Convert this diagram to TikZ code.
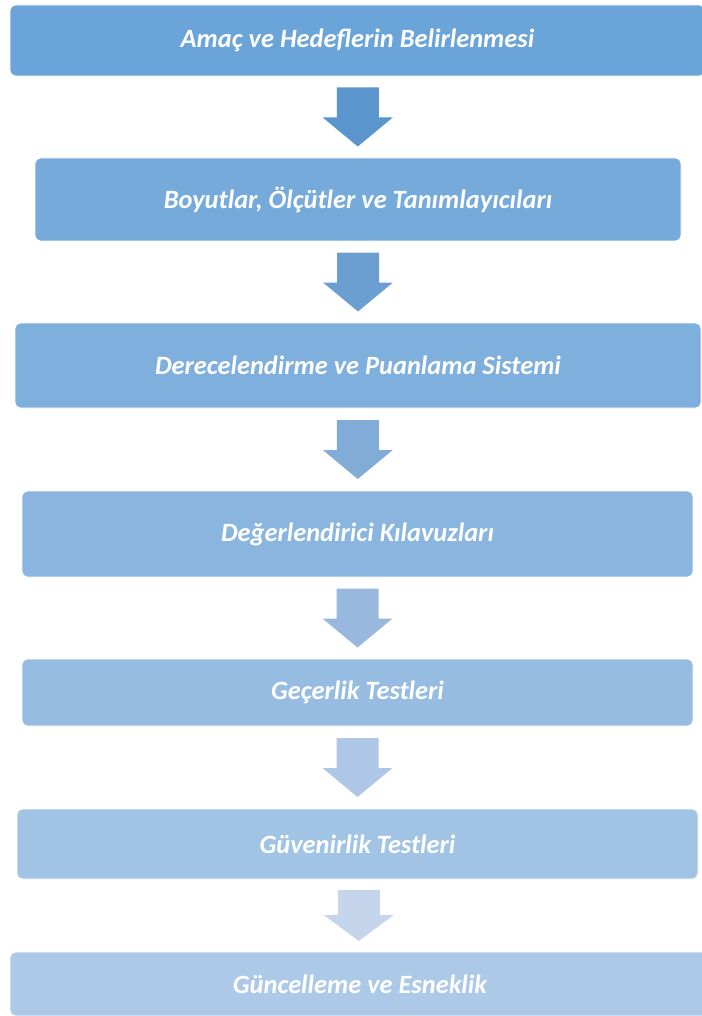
\documentclass[tikz,border=0pt]{standalone}
\usepackage{fontspec}
\setmainfont{Carlito}
\usetikzlibrary{calc}
\definecolor{cbox1}{RGB}{106,164,216}
\definecolor{cbox2}{RGB}{117,170,219}
\definecolor{cbox3}{RGB}{127,175,221}
\definecolor{cbox4}{RGB}{137,181,223}
\definecolor{cbox5}{RGB}{150,188,226}
\definecolor{cbox6}{RGB}{161,196,229}
\definecolor{cbox7}{RGB}{172,202,232}
\definecolor{carr1}{RGB}{90,150,205}
\definecolor{carr2}{RGB}{108,159,209}
\definecolor{carr3}{RGB}{130,172,216}
\definecolor{carr4}{RGB}{152,184,222}
\definecolor{carr5}{RGB}{174,199,230}
\definecolor{carr6}{RGB}{197,214,236}
\tikzset{stepbox/.style={rounded corners=4,draw=white,line width=0.6pt,text=white,
    inner sep=0pt,font=\fontsize{19.8}{22}\selectfont\bfseries\itshape}}

\begin{document}
\begin{tikzpicture}[x=0.75pt,y=-0.75pt]
    \useasboundingbox (0,0) rectangle (701,1016);
    % stages
    \node[stepbox,fill=cbox1,minimum width={695*0.75pt},minimum height={71*0.75pt}] (b1) at (357.5,40.5) {Amaç ve Hedeflerin Belirlenmesi};
    \node[stepbox,fill=cbox2,minimum width={646*0.75pt},minimum height={83*0.75pt}] (b2) at (358,199.5) {Boyutlar, Ölçütler ve Tanımlayıcıları};
    \node[stepbox,fill=cbox3,minimum width={686*0.75pt},minimum height={85*0.75pt}] (b3) at (358,365.5) {Derecelendirme ve Puanlama Sistemi};
    \node[stepbox,fill=cbox4,minimum width={671*0.75pt},minimum height={86*0.75pt}] (b4) at (357.5,534) {Değerlendirici Kılavuzları};
    \node[stepbox,fill=cbox5,minimum width={671*0.75pt},minimum height={67*0.75pt}] (b5) at (357.5,692.5) {Geçerlik Testleri};
    \node[stepbox,fill=cbox6,minimum width={681*0.75pt},minimum height={70*0.75pt}] (b6) at (357.5,844) {Güvenirlik Testleri};
    \node[stepbox,fill=cbox7,minimum width={700*0.75pt},minimum height={64*0.75pt}] (b7) at (360,984) {Güncelleme ve Esneklik};
    % block arrows between stages
    \foreach \i/\j/\l/\h in {1/2/29.5/29,2/3/29.5/29,3/4/29.5/29,4/5/29.5/29,5/6/29.5/29,6/7/25.5/26} {
        \coordinate (m\i) at ($(b\i.south)!0.5!(b\j.north)$);
        \fill[carr\i,shift={(m\i)}] (-21,-\l) -- (21,-\l) -- (21,\l-\h) -- (35,\l-\h)
            -- (0,\l) -- (-35,\l-\h) -- (-21,\l-\h) -- cycle;
    }
\end{tikzpicture}
\end{document}
